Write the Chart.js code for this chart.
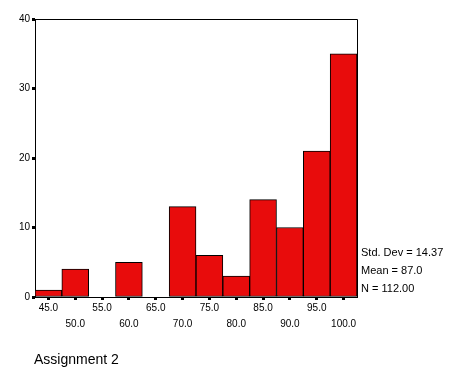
<!DOCTYPE html>
<html>
<head>
<meta charset="utf-8">
<script src="https://cdn.jsdelivr.net/npm/chart.js@4"></script>
<style>
  body { margin: 0; background: #fff; }
  canvas { display: block; }
</style>
</head>
<body>
<canvas id="histChart" width="473" height="377"></canvas>
<script>
// bin midpoints and counts
const binLabels = ["45.0", "50.0", "55.0", "60.0", "65.0", "70.0", "75.0", "80.0", "85.0", "90.0", "95.0", "100.0"];
const binCounts = [1, 4, 0, 5, 0, 13, 6, 3, 14, 10, 21, 35];
const yTicks = [0, 10, 20, 30, 40];
const statLines = ["Std. Dev = 14.37", "Mean = 87.0", "N = 112.00"];
const xTitle = "Assignment 2";

const FONT = "'Liberation Sans', Arial, sans-serif";

// alternate the labels on two rows like the original
const xLabels = binLabels.map((lbl, i) => i % 2 === 0 ? [lbl, ""] : ["", lbl]);

const framePlugin = {
    id: "frame",
    afterDatasetsDraw(chart) {
        const { ctx, chartArea: a } = chart;
        ctx.save();
        ctx.strokeStyle = "#000";
        ctx.lineWidth = 1;
        ctx.beginPath();
        ctx.moveTo(a.left, a.top + 0.5);
        ctx.lineTo(a.right + 0.5, a.top + 0.5);
        ctx.lineTo(a.right + 0.5, a.bottom);
        ctx.stroke();
        ctx.restore();
    },
    afterDraw(chart) {
        const { ctx, chartArea: a } = chart;
        ctx.save();
        ctx.fillStyle = "#000";
        ctx.textBaseline = "middle";
        ctx.textAlign = "left";
        ctx.font = "11px " + FONT;
        statLines.forEach((txt, i) => {
            ctx.fillText(txt, a.right + 4, a.bottom - 44 + i * 18);
        });
        ctx.font = "14px " + FONT;
        ctx.fillText(xTitle, a.left - 1, 360);
        ctx.restore();
    }
};

new Chart(document.getElementById("histChart"), {
    type: "bar",
    data: {
        labels: xLabels,
        datasets: [{
            data: binCounts,
            backgroundColor: "rgb(232,12,12)",
            borderColor: "#000",
            borderWidth: 1,
            borderSkipped: false,
            barPercentage: 1,
            categoryPercentage: 1
        }]
    },
    options: {
        responsive: false,
        animation: false,
        layout: { padding: { left: 0, top: 19, right: 116, bottom: 40 } },
        plugins: {
            legend: { display: false },
            tooltip: { enabled: false }
        },
        scales: {
            x: {
                afterFit: s => { s.height = 40; },
                grid: {
                    offset: false,
                    drawOnChartArea: false,
                    tickLength: 3,
                    tickWidth: 3,
                    tickColor: "#000"
                },
                border: { color: "#000", width: 1 },
                ticks: {
                    color: "#000",
                    padding: 0,
                    maxRotation: 0,
                    autoSkip: false,
                    font: { family: FONT, size: 10, lineHeight: 1.6 }
                }
            },
            y: {
                min: 0,
                max: 40,
                afterFit: s => { s.width = 35; },
                afterBuildTicks: s => { s.ticks = yTicks.map(v => ({ value: v })); },
                grid: {
                    drawOnChartArea: false,
                    tickLength: 3,
                    tickWidth: 3,
                    tickColor: "#000"
                },
                border: { color: "#000", width: 1 },
                ticks: {
                    color: "#000",
                    padding: 2,
                    font: { family: FONT, size: 10 }
                }
            }
        }
    },
    plugins: [framePlugin]
});
</script>
</body>
</html>
